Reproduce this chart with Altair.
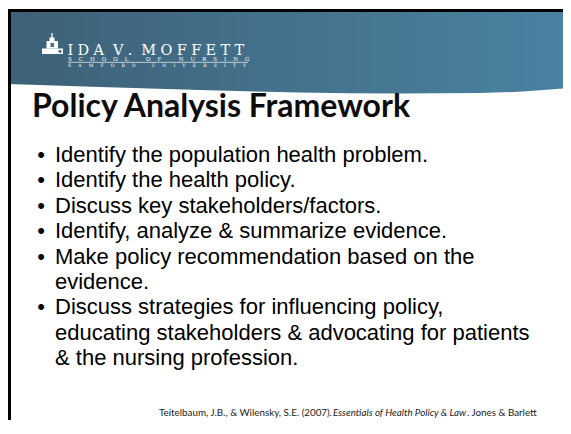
import altair as alt
import pandas as pd

# ---------------- content ----------------
brand_name = "IDA V. MOFFETT"
brand_school = "SCHOOL OF NURSING"
brand_univ = "SAMFORD UNIVERSITY"
title_text = "Policy Analysis Framework"
bullet_items = [
    ["Identify the population health problem."],
    ["Identify the health policy."],
    ["Discuss key stakeholders/factors."],
    ["Identify, analyze & summarize evidence."],
    ["Make policy recommendation based on the", "evidence."],
    ["Discuss strategies for influencing policy,",
     "educating stakeholders & advocating for patients",
     "& the nursing profession."],
]
citation_parts = ["Teitelbaum, J.B., & Wilensky, S.E. (2007).",
                  "Essentials of Health Policy & Law",
                  ". Jones & Barlett"]
citation_styles = ["normal", "italic", "normal"]

# ---------------- layout (slide pixels) ----------------
X0, X1, Y0, Y1 = 8, 563, 8, 420
FIRST_BASELINE, LINE_GAP = 162, 25.4
TEXT_X, BULLET_X = 55, 41
HEADER_TOP = 12
wave = pd.DataFrame({"x": [8, 100, 200, 300, 400, 480, 530, 563],
                     "y": [84, 87, 90, 92.5, 93.5, 93, 91, 88.5]})
wave["y2"] = HEADER_TOP

xs = alt.Scale(domain=[X0, X1], nice=False, zero=False)
ys = alt.Scale(domain=[Y0, Y1], nice=False, zero=False, reverse=True)


def X(f):
    return alt.X(f, type="quantitative", scale=xs, axis=None)


def Y(f):
    return alt.Y(f, type="quantitative", scale=ys, axis=None)


# header band with gradient
header = alt.Chart(wave).mark_area(
    interpolate="monotone",
    color=alt.Gradient(gradient="linear",
                       stops=[alt.GradientStop(color="#3d6177", offset=0),
                              alt.GradientStop(color="#4a82a1", offset=1)],
                       x1=0, x2=1, y1=0, y2=0),
).encode(x=X("x"), y=Y("y"), y2="y2")

frame = pd.DataFrame({"x": [X0, X0], "x2": [X1, X0 + 3],
                      "y": [9, 9], "y2": [HEADER_TOP, Y1]})
frame_m = alt.Chart(frame).mark_rect(color="#000000").encode(
    x=X("x"), x2="x2", y=Y("y"), y2="y2")

# building icon
icon = pd.DataFrame({
    "x": [49.5, 46.5, 42, 50.5],
    "x2": [54.5, 58, 63, 54],
    "y": [37.5, 41, 48.5, 43],
    "y2": [41, 48.5, 54, 47],
    "c": ["w", "w", "w", "d"],
})
icon_m = alt.Chart(icon).mark_rect().encode(
    x=X("x"), x2="x2", y=Y("y"), y2="y2",
    color=alt.Color("c:N", scale=alt.Scale(domain=["w", "d"], range=["#ffffff", "#4a7189"]), legend=None))
spire = alt.Chart(pd.DataFrame({"x": [52], "y": [33], "y2": [38]})).mark_rule(
    color="white", strokeWidth=1.3).encode(x=X("x"), y=Y("y"), y2="y2")
clock = alt.Chart(pd.DataFrame({"x": [60], "y": [51.3]})).mark_point(
    filled=True, color="#4a7189", size=10, opacity=1).encode(x=X("x"), y=Y("y"))

# brand text (letter-spaced)
nb, th, hr = "\u00a0", "\u2009", "\u200a"
brand_str = (nb + th + hr).join((th + hr).join(w) for w in brand_name.split(" "))
brand = alt.Chart(pd.DataFrame({"t": [brand_str], "x": [67.5], "y": [55]})).mark_text(
    align="left", baseline="alphabetic", font="DejaVu Serif", fontSize=14.5,
    color="white").encode(x=X("x"), y=Y("y"), text="t:N")


def spread(s, gap, wordgap):
    return (nb * wordgap).join((nb * gap).join(w) for w in s.split(" "))


school = alt.Chart(pd.DataFrame({"t": [spread(brand_school, 4, 10)], "x": [68], "y": [61]})).mark_text(
    align="left", baseline="alphabetic", font="DejaVu Serif", fontSize=5.5,
    color="white").encode(x=X("x"), y=Y("y"), text="t:N")
univ = alt.Chart(pd.DataFrame({"t": [spread(brand_univ, 5, 11)], "x": [68], "y": [67]})).mark_text(
    align="left", baseline="alphabetic", font="DejaVu Serif", fontSize=4.5,
    color="white").encode(x=X("x"), y=Y("y"), text="t:N")
rule = alt.Chart(pd.DataFrame({"x": [68], "x2": [248], "y": [62.3]})).mark_rule(
    color="white", strokeWidth=0.8, opacity=0.85).encode(x=X("x"), x2="x2", y=Y("y"))

# title
title = alt.Chart(pd.DataFrame({"t": [title_text], "x": [32], "y": [117]})).mark_text(
    align="left", baseline="alphabetic", font="Lato", fontWeight="bold", fontSize=32,
    color="#0d0d0d").encode(x=X("x"), y=Y("y"), text="t:N")

# bullets
rows, dots = [], []
k = 0
for item in bullet_items:
    for j, line in enumerate(item):
        yb = FIRST_BASELINE + k * LINE_GAP
        rows.append({"t": line, "x": TEXT_X, "y": yb})
        if j == 0:
            dots.append({"t": "\u2022", "x": BULLET_X, "y": yb})
        k += 1
body = alt.Chart(pd.DataFrame(rows)).mark_text(
    align="left", baseline="alphabetic", font="Liberation Sans", fontSize=22,
    color="#000000").encode(x=X("x"), y=Y("y"), text="t:N")
bul = alt.Chart(pd.DataFrame(dots)).mark_text(
    align="center", baseline="alphabetic", font="Liberation Sans", fontSize=22,
    color="#000000").encode(x=X("x"), y=Y("y"), text="t:N")

# citation
cit_x = [159, 333, 467]
cit_layers = []
for part, style, cx in zip(citation_parts, citation_styles, cit_x):
    cit_layers.append(alt.Chart(pd.DataFrame({"t": [part], "x": [cx], "y": [416]})).mark_text(
        align="left", baseline="alphabetic", font="Lato", fontSize=9.8, fontStyle=style,
        color="#1a1a1a").encode(x=X("x"), y=Y("y"), text="t:N"))

chart = alt.layer(header, frame_m, icon_m, spire, clock, brand, school, univ, rule,
                  title, body, bul, *cit_layers).properties(
    width=555, height=412, padding=0,
    autosize=alt.AutoSizeParams(type="fit", contains="padding"),
    background="white",
).configure_view(stroke=None)

chart.save("out.html", embed_options={"renderer": "svg", "actions": False})
